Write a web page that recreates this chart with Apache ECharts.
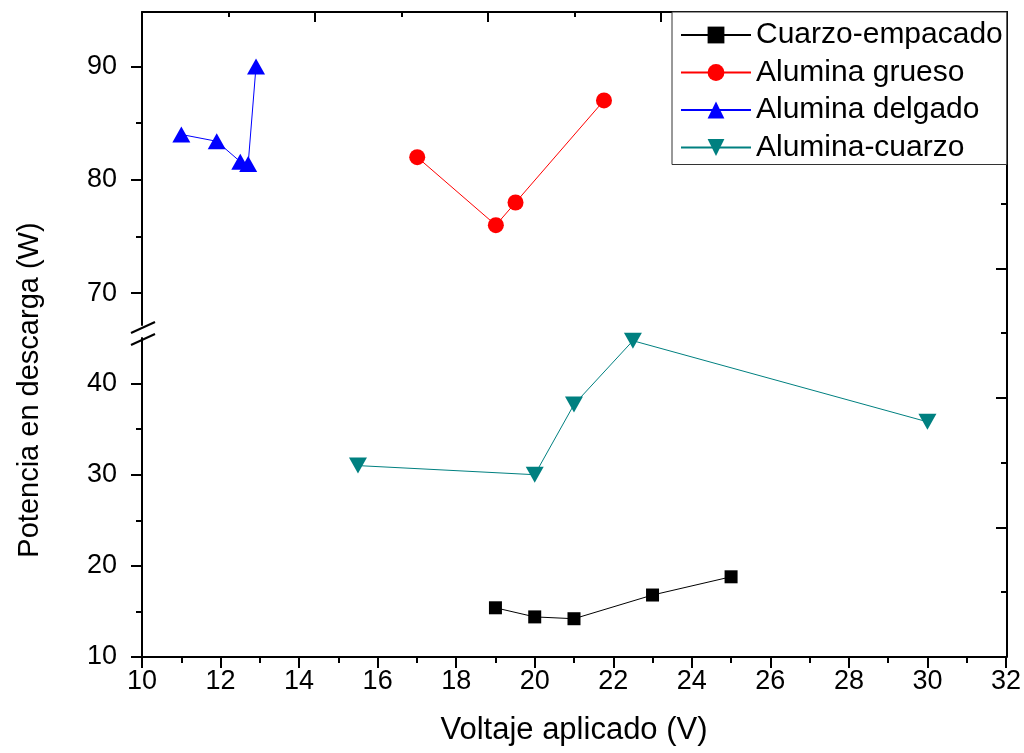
<!DOCTYPE html>
<html>
<head>
<meta charset="utf-8">
<script src="https://cdn.jsdelivr.net/npm/echarts@6/dist/echarts.min.js"></script>
<style>html,body{margin:0;padding:0;background:#fff}#c{width:1024px;height:753px}</style>
</head>
<body>
<div id="c"></div>
<script>
// ---- data ----
const seriesNames = ['Cuarzo-empacado', 'Alumina grueso', 'Alumina delgado', 'Alumina-cuarzo'];
const cuarzoEmpacado = [[19, 15.4], [20, 14.4], [21, 14.2], [23, 16.8], [25, 18.8]];
const aluminaGrueso = [[17, 82.0], [19, 76.0], [19.5, 78.0], [21.75, 87.0]];
const aluminaDelgado = [[11, 84.0], [11.9, 83.4], [12.5, 81.6], [12.7, 81.4], [12.9, 90.0]];
const aluminaCuarzo = [[15.5, 31.0], [20, 30.0], [21, 37.7], [22.5, 44.7], [30, 35.8]];
const yTicksUpper = [70, 80, 90];
const yMinorUpper = [75, 85];
const yTicksLower = [10, 20, 30, 40];
const yMinorLower = [15, 25, 35];
const xTitle = 'Voltaje aplicado (V)';
const yTitle = 'Potencia en descarga (W)';

const FONT = "'Liberation Sans', Arial, sans-serif";
const L = 142, R = 17;
const axisLine = {show: true, onZero: false, lineStyle: {color: '#000', width: 2}};

const chart = echarts.init(document.getElementById('c'), null, {renderer: 'canvas'});
chart.setOption({
  animation: false,
  backgroundColor: '#fff',
  textStyle: {fontFamily: FONT},
  grid: [
    {left: L, right: R, top: 12, height: 313},
    {left: L, right: R, top: 338, bottom: 96},
    {left: L, right: R, top: 12, bottom: 96}
  ],
  xAxis: [
    {type: 'value', gridIndex: 0, min: 10, max: 32, show: false},
    {type: 'value', gridIndex: 1, min: 10, max: 32, interval: 2, position: 'bottom',
     axisLine: axisLine,
     axisTick: {show: true, length: 11, lineStyle: {color: '#000', width: 2}},
     minorTick: {show: true, splitNumber: 2, length: 6, lineStyle: {color: '#000', width: 2}},
     axisLabel: {color: '#000', fontSize: 27, margin: 11, fontFamily: FONT},
     splitLine: {show: false},
     name: xTitle, nameLocation: 'middle', nameGap: 58,
     nameTextStyle: {color: '#000', fontSize: 31, fontFamily: FONT}},
    {type: 'value', gridIndex: 2, min: 0, max: 5, interval: 1, position: 'top',
     axisLine: axisLine,
     axisTick: {show: true, inside: true, length: 10, lineStyle: {color: '#000', width: 2}},
     minorTick: {show: true, splitNumber: 2, length: 5, lineStyle: {color: '#000', width: 2}},
     axisLabel: {show: false}, splitLine: {show: false}}
  ],
  yAxis: [
    {type: 'value', gridIndex: 0, min: 67.2, max: 94.8, position: 'left',
     axisLine: axisLine,
     axisTick: {show: true, length: 11, customValues: yTicksUpper, lineStyle: {color: '#000', width: 2}},
     axisLabel: {color: '#000', fontSize: 27, margin: 25, customValues: yTicksUpper, fontFamily: FONT},
     splitLine: {show: false}},
    {type: 'value', gridIndex: 0, min: 67.2, max: 94.8, position: 'left',
     axisLine: {show: false, onZero: false},
     axisTick: {show: true, length: 6, customValues: yMinorUpper, lineStyle: {color: '#000', width: 2}},
     axisLabel: {show: false}, splitLine: {show: false}},
    {type: 'value', gridIndex: 1, min: 10, max: 45, position: 'left',
     axisLine: axisLine,
     axisTick: {show: true, length: 11, customValues: yTicksLower, lineStyle: {color: '#000', width: 2}},
     axisLabel: {color: '#000', fontSize: 27, margin: 25, customValues: yTicksLower, fontFamily: FONT},
     splitLine: {show: false}},
    {type: 'value', gridIndex: 1, min: 10, max: 45, position: 'left',
     axisLine: {show: false, onZero: false},
     axisTick: {show: true, length: 6, customValues: yMinorLower, lineStyle: {color: '#000', width: 2}},
     axisLabel: {show: false}, splitLine: {show: false}},
    {type: 'value', gridIndex: 2, min: 0, max: 4.98, interval: 1, position: 'right',
     axisLine: axisLine,
     axisTick: {show: true, inside: true, length: 11, lineStyle: {color: '#000', width: 2}},
     minorTick: {show: true, splitNumber: 2, length: 6, lineStyle: {color: '#000', width: 2}},
     axisLabel: {show: false}, splitLine: {show: false}}
  ],
  legend: {
    orient: 'vertical', left: 672, top: 12,
    padding: [8, 4, 2, 8],
    backgroundColor: '#fff', borderColor: '#333', borderWidth: 1,
    itemWidth: 70, itemHeight: 21, itemGap: 7.5,
    textStyle: {color: '#000', fontSize: 30, lineHeight: 30, fontFamily: FONT},
    data: seriesNames
  },
  series: [
    {name: seriesNames[0], type: 'line', xAxisIndex: 1, yAxisIndex: 2, data: cuarzoEmpacado,
     symbol: 'rect', symbolSize: 13, color: '#000', lineStyle: {width: 1, color: '#000'}, itemStyle: {color: '#000'}},
    {name: seriesNames[1], type: 'line', xAxisIndex: 0, yAxisIndex: 0, data: aluminaGrueso,
     symbol: 'circle', symbolSize: 16, color: '#ff0000', lineStyle: {width: 1, color: '#ff0000'}, itemStyle: {color: '#ff0000'}},
    {name: seriesNames[2], type: 'line', xAxisIndex: 0, yAxisIndex: 0, data: aluminaDelgado,
     symbol: 'triangle', symbolSize: [18, 16], color: '#0000ff', lineStyle: {width: 1, color: '#0000ff'}, itemStyle: {color: '#0000ff'}},
    {name: seriesNames[3], type: 'line', xAxisIndex: 1, yAxisIndex: 2, data: aluminaCuarzo,
     symbol: 'triangle', symbolRotate: 180, symbolSize: [18, 16], color: '#008080',
     lineStyle: {width: 1, color: '#008080'}, itemStyle: {color: '#008080'}}
  ],
  graphic: [
    {type: 'text', x: 30, y: 390, rotation: Math.PI / 2,
     style: {text: yTitle, fontSize: 29, fontFamily: FONT, fill: '#000', align: 'center', verticalAlign: 'middle'}},
    {type: 'line', shape: {x1: 131, y1: 333, x2: 155, y2: 322}, style: {stroke: '#000', lineWidth: 2}},
    {type: 'line', shape: {x1: 131, y1: 345, x2: 155, y2: 334}, style: {stroke: '#000', lineWidth: 2}}
  ]
});
</script>
</body>
</html>
